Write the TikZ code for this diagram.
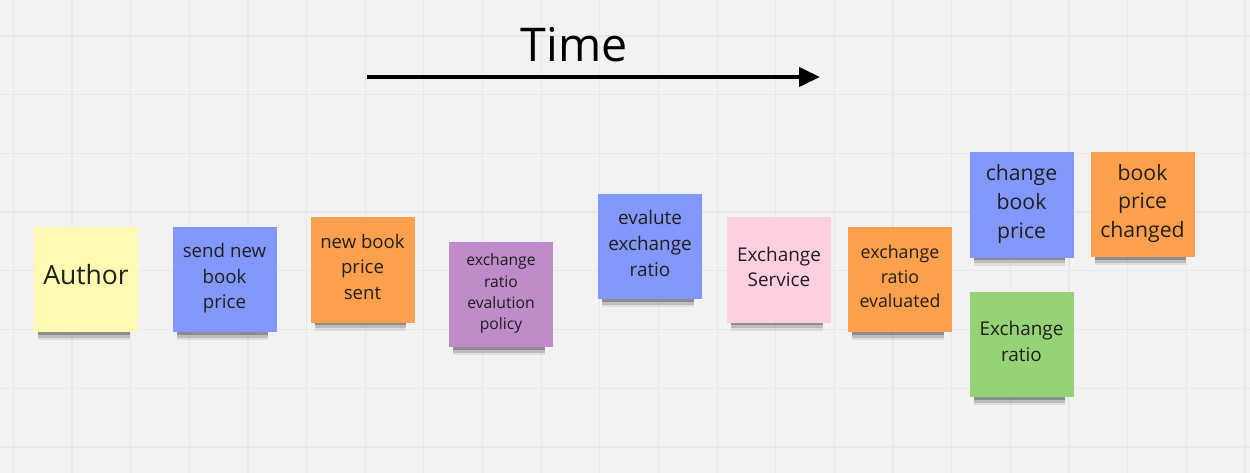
\documentclass[tikz,border=0pt]{standalone}
\usepackage{fontspec}
\setmainfont{Open Sans}
\usetikzlibrary{arrows.meta, shadows}

\begin{document}
\begin{tikzpicture}
			[x=1pt,y=-1pt,line cap=round,
			%Styles
			grid line/.style={draw=black!9,line width=1.2pt},
			time arrow/.style={line width=4pt,line cap=butt,-{Triangle[length=21pt,width=19pt]}},
			note shadow/.style 2 args={general shadow={shadow xshift=-2.5pt,shadow yshift=-#1,shadow scale=0.88,fill=black,opacity=#2}},
			note/.style={fill=#1,minimum width=104pt,minimum height=105pt,inner sep=2pt,
				align=center,text=black!88,
				note shadow={16.5pt}{0.08},note shadow={13.5pt}{0.15},note shadow={10.5pt}{0.25},
				execute at end node={\rule[-0.35em]{0pt}{0.35em}}},
			fs/.style={font=\fontsize{#1}{#1}\linespread{1.36}\selectfont}
			]
			
			%Colors
			\definecolor{paper}{HTML}{F2F2F2}
			\definecolor{noteyellow}{HTML}{FFF9B1}
			\definecolor{noteblue}{HTML}{8398FC}
			\definecolor{noteorange}{HTML}{FFA04E}
			\definecolor{notepurple}{HTML}{BF8BC9}
			\definecolor{notepink}{HTML}{FFCEE0}
			\definecolor{notegreen}{HTML}{96D276}
			
			%The board
			\fill[paper] (0,0) rectangle (1250,473);
			\useasboundingbox (0,0) rectangle (1250,473);
			\foreach \gx in {0,...,21}
				\draw[grid line] (13.3+58.65*\gx,0) -- ++(0,473);
			\foreach \gy in {0,...,7}
				\draw[grid line] (0,36+58.7*\gy) -- ++(1250,0);
			
			%Time
			\node[anchor=base,fs=46.5] (time) at (574,62) {Time};
			\coordinate (t0) at (367,77);
			\coordinate (t1) at (820,77);
			\draw[time arrow] (t0) -- (t1);
			
			%The notes
			\node[note=noteyellow,fs=26.5] (author) at (86,279.5) {Author};
			\node[note=noteblue,fs=18.7] (send) at (224.5,279.5) {send new\\book\\price};
			\node[note=noteorange,fs=18.6] (sent) at (362.5,270) {new book\\price\\sent};
			\node[note=notepurple,fs=15.7] (policy) at (501,294.5) {exchange\\ratio\\evalution\\policy};
			\node[note=noteblue,fs=18.9] (evaluate) at (650,246.5) {evalute\\exchange\\ratio};
			\node[note=notepink,fs=18.9] (service) at (779,270) {Exchange\\Service};
			\node[note=noteorange,fs=17.8] (evaluated) at (900,279.5) {exchange\\ratio\\evaluated};
			\node[note=noteblue,fs=21.2] (change) at (1021.5,205) {change\\book\\price};
			\node[note=noteorange,fs=21.2] (changed) at (1142.5,204.5) {book\\price\\changed};
			\node[note=notegreen,fs=18.9] (ratio) at (1021.5,344.5) {Exchange\\ratio};
		\end{tikzpicture}
\end{document}
